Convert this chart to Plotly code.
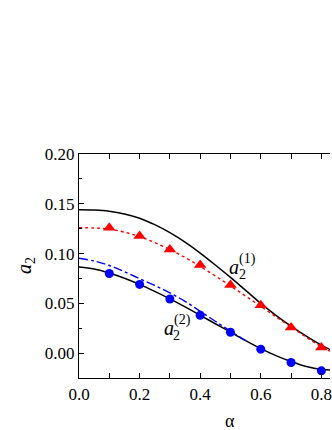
import plotly.graph_objects as go

# alpha grid for the curves
alpha = [0.0, 0.05, 0.10, 0.15, 0.20, 0.25, 0.30, 0.35, 0.40, 0.45,
         0.50, 0.55, 0.60, 0.65, 0.70, 0.75, 0.80, 0.85]

# upper solid curve a2(1)
a21_theory = [0.1440, 0.1437, 0.1425, 0.1398, 0.1355, 0.1290, 0.1210, 0.1115, 0.1005,
              0.0885, 0.0760, 0.0630, 0.0500, 0.0380, 0.0270, 0.0170, 0.0080, 0.0005]
# red dotted curve
a21_approx = [0.1260, 0.1257, 0.1245, 0.1215, 0.1170, 0.1110, 0.1040, 0.0960, 0.0870,
              0.0775, 0.0675, 0.0573, 0.0470, 0.0365, 0.0262, 0.0160, 0.0065, -0.0010]
# lower solid curve a2(2)
a22_theory = [0.0865, 0.0845, 0.0805, 0.0752, 0.0690, 0.0620, 0.0545, 0.0465, 0.0380,
              0.0295, 0.0210, 0.0125, 0.0045, -0.0025, -0.0085, -0.0135, -0.0165, -0.0172]
# blue dash-dot curve (stops where it joins the lower curve)
alpha_dd = alpha[:12]
a22_approx = [0.0953, 0.0925, 0.0880, 0.0818, 0.0748, 0.0680, 0.0605, 0.0520, 0.0420,
              0.0320, 0.0220, 0.0125]

# simulation points
alpha_pts = [0.1, 0.2, 0.3, 0.4, 0.5, 0.6, 0.7, 0.8]
a21_sim = [0.126, 0.1177, 0.104, 0.0885, 0.0684, 0.048, 0.0258, 0.0057]
a22_sim = [0.080, 0.069, 0.0543, 0.038, 0.021, 0.004, -0.0094, -0.0178]

FONT = "Liberation Serif, Times New Roman, serif"

fig = go.Figure()
fig.add_trace(go.Scatter(x=alpha, y=a21_theory, mode="lines", line_shape="spline",
                         line=dict(color="black", width=1.5)))
fig.add_trace(go.Scatter(x=alpha, y=a21_approx, mode="lines", line_shape="spline",
                         line=dict(color="red", width=1.4, dash="dot")))
fig.add_trace(go.Scatter(x=alpha, y=a22_theory, mode="lines", line_shape="spline",
                         line=dict(color="black", width=1.5)))
fig.add_trace(go.Scatter(x=alpha_dd, y=a22_approx, mode="lines", line_shape="spline",
                         line=dict(color="blue", width=1.4, dash="dashdot")))
fig.add_trace(go.Scatter(x=alpha_pts, y=a21_sim, mode="markers",
                         marker=dict(symbol="triangle-up", color="red", size=11)))
fig.add_trace(go.Scatter(x=alpha_pts, y=a22_sim, mode="markers",
                         marker=dict(symbol="circle", color="blue", size=9)))

fig.update_layout(
    width=332, height=430,
    margin=dict(l=79, r=0, t=154, b=52),
    plot_bgcolor="white", paper_bgcolor="white",
    showlegend=False,
    font=dict(family=FONT, size=17, color="black"),
)
fig.update_xaxes(range=[0, 0.8285], dtick=0.2, tickformat=".1f",
                 tickfont=dict(family=FONT, size=17), ticklabeloverflow="allow",
                 showline=True, linecolor="black", linewidth=1.3, mirror="ticks",
                 ticks="inside", ticklen=5, tickcolor="black", showgrid=False, zeroline=False,
                 minor=dict(dtick=0.1, ticks="inside", ticklen=5, tickcolor="black", showgrid=False))
fig.update_yaxes(range=[-0.025, 0.2], dtick=0.05, tickformat=".2f",
                 tickfont=dict(family=FONT, size=17),
                 showline=True, linecolor="black", linewidth=1.3, mirror=False,
                 ticks="inside", ticklen=5, tickcolor="black", showgrid=False, zeroline=False,
                 minor=dict(dtick=0.025, ticks="inside", ticklen=3, tickcolor="black", showgrid=False))

ann = [
    # axis titles
    dict(text="α", xref="x", yref="paper", x=0.5, y=-0.19, size=18),
    dict(text="<i>a</i><sub>2</sub>", xref="paper", yref="paper", x=-0.215, y=0.5,
         size=20, angle=-90),
    # curve labels
    dict(text="<i>a</i>", xref="x", yref="y", x=0.512, y=0.0865, size=20),
    dict(text="2", xref="x", yref="y", x=0.539, y=0.0785, size=14),
    dict(text="(1)", xref="x", yref="y", x=0.557, y=0.0950, size=14),
    dict(text="<i>a</i>", xref="x", yref="y", x=0.296, y=0.0257, size=20),
    dict(text="2", xref="x", yref="y", x=0.323, y=0.018, size=14),
    dict(text="(2)", xref="x", yref="y", x=0.341, y=0.0331, size=14),
]
for a in ann:
    fig.add_annotation(text=a["text"], xref=a["xref"], yref=a["yref"], x=a["x"], y=a["y"],
                       showarrow=False, textangle=a.get("angle", 0),
                       xanchor="center", yanchor="middle",
                       font=dict(family=FONT, size=a["size"], color="black"))

# drop the default body margin so the 332x430 figure fills the window exactly
fig.write_html("out.html", config={"displayModeBar": False},
               post_script="document.body.style.margin='0';document.body.style.overflow='hidden';")
